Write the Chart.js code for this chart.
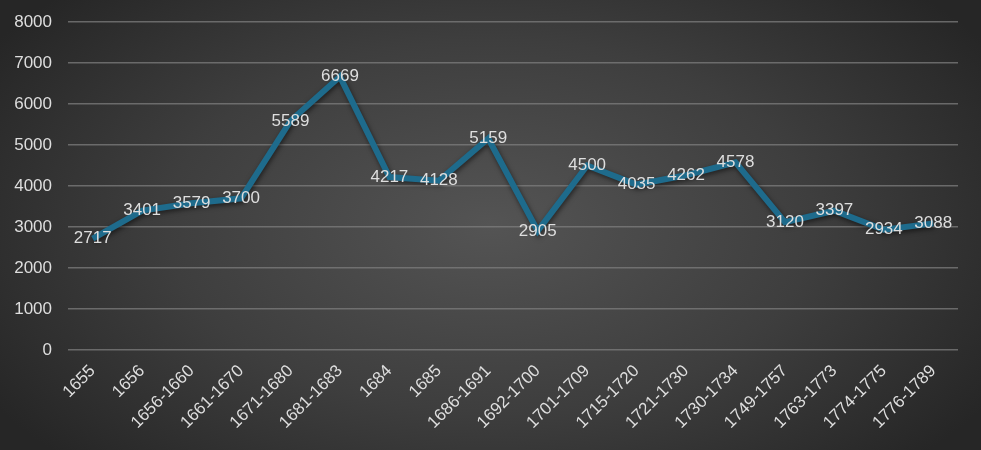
<!DOCTYPE html>
<html>
<head>
<meta charset="utf-8">
<script src="https://cdn.jsdelivr.net/npm/chart.js@4/dist/chart.umd.min.js"></script>
<style>
  html, body { margin: 0; padding: 0; }
  body {
    width: 981px; height: 450px; overflow: hidden;
    background: radial-gradient(ellipse 60% 75% at 50% 50%, #545454 0%, #3e3e3e 55%, #262626 100%);
  }
  #wrap { width: 981px; height: 450px; }
</style>
</head>
<body>
<div id="wrap"><canvas id="chart"></canvas></div>
<script>
// Data
const categories = [
  "1655", "1656", "1656-1660", "1661-1670", "1671-1680", "1681-1683",
  "1684", "1685", "1686-1691", "1692-1700", "1701-1709", "1715-1720",
  "1721-1730", "1730-1734", "1749-1757", "1763-1773", "1774-1775", "1776-1789"
];
const values = [
  2717, 3401, 3579, 3700, 5589, 6669,
  4217, 4128, 5159, 2905, 4500, 4035,
  4262, 4578, 3120, 3397, 2934, 3088
];
const yTicks = [0, 1000, 2000, 3000, 4000, 5000, 6000, 7000, 8000];

const textColor = "#dedede";
const font = "Liberation Sans, Arial, sans-serif";

// shadow under the line
const lineShadow = {
  id: "lineShadow",
  beforeDatasetDraw(chart) {
    const ctx = chart.ctx;
    ctx.save();
    ctx.shadowColor = "rgba(0,0,0,0.55)";
    ctx.shadowBlur = 5;
    ctx.shadowOffsetX = 1;
    ctx.shadowOffsetY = 2;
  },
  afterDatasetDraw(chart) {
    chart.ctx.restore();
  }
};

// value labels centred on each point
const valueLabels = {
  id: "valueLabels",
  afterDatasetsDraw(chart) {
    const ctx = chart.ctx;
    const meta = chart.getDatasetMeta(0);
    ctx.save();
    ctx.font = "17px " + font;
    ctx.fillStyle = textColor;
    ctx.textAlign = "center";
    ctx.textBaseline = "middle";
    meta.data.forEach((pt, i) => {
      ctx.fillText(String(values[i]), pt.x, pt.y);
    });
    ctx.restore();
  }
};

const ctx = document.getElementById("chart").getContext("2d");
new Chart(ctx, {
  type: "line",
  data: {
    labels: categories,
    datasets: [{
      data: values,
      borderColor: "#1e6b8c",
      borderWidth: 6,
      pointRadius: 0,
      pointHoverRadius: 0,
      tension: 0,
      fill: false
    }]
  },
  options: {
    responsive: true,
    maintainAspectRatio: false,
    animation: false,
    layout: { padding: { left: 0, right: 23, top: 22, bottom: 0 } },
    plugins: {
      legend: { display: false },
      tooltip: { enabled: false }
    },
    scales: {
      x: {
        offset: true,
        grid: { display: false },
        border: { display: false },
        ticks: {
          color: textColor,
          font: { family: font, size: 17 },
          minRotation: 45,
          maxRotation: 45,
          autoSkip: false
        },
        afterFit(s) { s.height = 100; }
      },
      y: {
        min: 0,
        max: 8000,
        afterBuildTicks(s) { s.ticks = yTicks.map(v => ({ value: v })); },
        grid: {
          color: "rgba(125,125,125,0.75)",
          lineWidth: 1.5,
          drawTicks: true,
          tickLength: 12,
          tickColor: "transparent"
        },
        border: { display: false },
        ticks: {
          color: textColor,
          font: { family: font, size: 17 },
          padding: 4,
          callback: v => String(v)
        },
        afterFit(s) { s.width = 68; }
      }
    }
  },
  plugins: [lineShadow, valueLabels]
});
</script>
</body>
</html>
